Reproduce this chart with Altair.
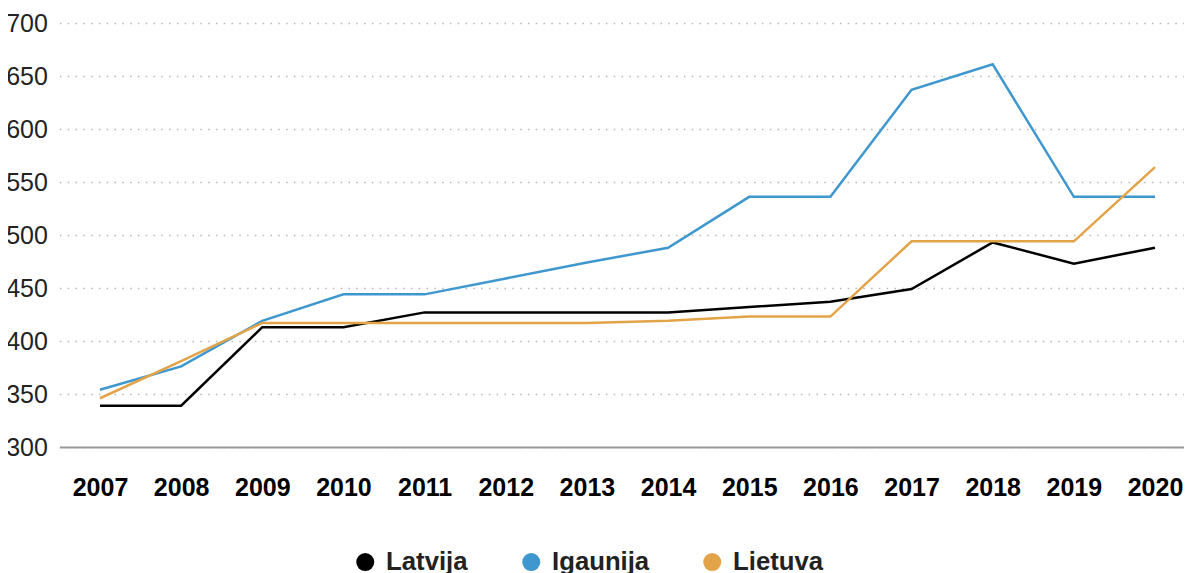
import altair as alt
import pandas as pd

years = [str(y) for y in range(2007, 2021)]
countries = ["Latvija", "Igaunija", "Lietuva"]
colors = ["#000000", "#3f97cf", "#e3a348"]

latvija = [339, 339, 413, 413, 427, 427, 427, 427, 432, 437, 449, 493, 473, 488]
igaunija = [354, 376, 419, 444, 444, 459, 474, 488, 536, 536, 637, 661, 536, 536]
lietuva = [346, 381, 417, 417, 417, 417, 417, 419, 423, 423, 494, 494, 494, 564]

y_ticks = [300, 350, 400, 450, 500, 550, 600, 650, 700]

rows = []
for name, vals in zip(countries, [latvija, igaunija, lietuva]):
    for yr, v in zip(years, vals):
        rows.append({"year": yr, "value": v, "country": name})
df = pd.DataFrame(rows)

FONT = "Liberation Sans"

x_enc = alt.X(
    "year:O",
    sort=years,
    scale=alt.Scale(type="point", padding=0.5),
    axis=alt.Axis(
        title=None,
        labelAngle=0,
        labelFont=FONT,
        labelFontSize=25,
        labelFontWeight="bold",
        labelColor="#000000",
        ticks=False,
        tickSize=0,
        labelPadding=28,
        domainColor="#9a9a9a",
        domainWidth=2,
        grid=False,
        zindex=1,
    ),
)
y_enc = alt.Y(
    "value:Q",
    scale=alt.Scale(domain=[300, 700], nice=False, zero=False),
    axis=alt.Axis(
        title=None,
        values=y_ticks,
        domain=False,
        ticks=False,
        tickSize=0,
        labelPadding=12,
        labelFont=FONT,
        labelFontSize=25,
        labelColor="#222222",
        grid=True,
        gridColor="#b8b8b8",
        gridDash=[1.5, 6.3],
        gridWidth=1.5,
    ),
)

base = alt.Chart(df)

lines = base.mark_line(strokeWidth=2.5).encode(
    x=x_enc,
    y=y_enc,
    color=alt.Color(
        "country:N",
        scale=alt.Scale(domain=countries, range=colors),
        legend=None,
    ),
)

legend_pts = base.mark_point(filled=True, opacity=1).encode(
    x=x_enc,
    y=y_enc,
    color=alt.Color(
        "country:N",
        scale=alt.Scale(domain=countries, range=colors),
        legend=alt.Legend(
            title=None,
            orient="none",
            legendX=293,
            legendY=526,
            direction="horizontal",
            symbolType="circle",
            symbolSize=324,
            symbolStrokeWidth=0,
            labelFont=FONT,
            labelFontSize=25.7,
            labelFontWeight="bold",
            labelColor="#222222",
            labelOffset=8,
            columnPadding=50,
            padding=0,
        ),
    ),
).transform_filter("false")

chart = (
    alt.layer(lines, legend_pts)
    .resolve_scale(color="independent")
    .resolve_legend(color="independent")
    .properties(
        width=1136.2,
        height=424,
        padding={"left": 51.4, "top": 15, "right": -11.6, "bottom": 130},
        autosize=alt.AutoSizeParams(type="none"),
    )
    .configure_view(strokeWidth=0)
)

chart.save("out.html", embed_options={"renderer": "svg", "actions": False})
